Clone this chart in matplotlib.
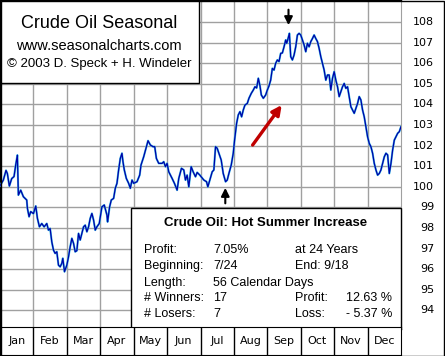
"""Crude oil seasonal chart (seasonalcharts.com style)."""
import matplotlib
matplotlib.use('Agg')
import matplotlib.pyplot as plt
from matplotlib.patches import Rectangle

# position in months since Jan 1 (0..12) and seasonal index value
month_pos = [
    0.00, 0.10, 0.18, 0.22, 0.28, 0.35, 0.42, 0.47, 0.52, 0.55, 0.62, 0.70, 0.80, 0.82, 0.87, 0.92,
    1.00, 1.07, 1.12, 1.18, 1.25, 1.32, 1.40, 1.45, 1.50, 1.55, 1.60, 1.65, 1.70, 1.75, 1.80, 1.85, 1.88, 1.93,
    2.00, 2.05, 2.10, 2.15, 2.20, 2.25, 2.30, 2.35, 2.40, 2.45, 2.50, 2.55, 2.60, 2.65, 2.70, 2.75, 2.80, 2.85, 2.90, 2.97,
    3.05, 3.12, 3.20, 3.22, 3.28, 3.33, 3.40, 3.45, 3.50, 3.55, 3.60, 3.65, 3.68, 3.72, 3.78, 3.85, 3.90, 3.95,
    4.00, 4.10, 4.18, 4.22, 4.30, 4.37, 4.43, 4.50, 4.58, 4.63, 4.68, 4.75, 4.85, 4.90, 4.95,
    5.00, 5.05, 5.15, 5.22, 5.30, 5.35, 5.43, 5.50, 5.55, 5.60, 5.65, 5.72, 5.78, 5.85, 5.90, 5.98,
    6.10, 6.18, 6.22, 6.28, 6.35, 6.40, 6.45, 6.50, 6.55, 6.62, 6.68, 6.75, 6.80, 6.85, 6.92, 6.98,
    7.02, 7.08, 7.13, 7.18, 7.23, 7.28, 7.33, 7.40, 7.45, 7.52, 7.58, 7.63, 7.68, 7.73, 7.78, 7.82, 7.88, 7.95,
    8.00, 8.05, 8.10, 8.15, 8.20, 8.25, 8.30, 8.35, 8.40, 8.45, 8.50, 8.55, 8.58, 8.62, 8.66, 8.70, 8.75, 8.80, 8.85, 8.90, 8.95,
    9.00, 9.05, 9.10, 9.15, 9.20, 9.25, 9.30, 9.35, 9.40, 9.45, 9.50, 9.55, 9.60, 9.65, 9.70, 9.75, 9.80, 9.85, 9.90, 9.95,
    10.00, 10.05, 10.10, 10.15, 10.20, 10.25, 10.30, 10.35, 10.40, 10.45, 10.50, 10.55, 10.60, 10.65, 10.70, 10.75, 10.80, 10.85, 10.90, 10.95,
    11.00, 11.05, 11.10, 11.15, 11.20, 11.25, 11.30, 11.35, 11.40, 11.45, 11.50, 11.55, 11.60, 11.65, 11.70, 11.75, 11.80, 11.85, 11.90, 11.95,
    12.00,
]
seasonal = [
    100.05, 100.33, 100.80, 100.65, 100.04, 100.40, 100.50, 101.06, 101.54, 99.60, 99.84, 99.52, 99.36, 98.96, 98.55, 98.80,
    98.70, 99.07, 98.47, 98.06, 98.22, 98.06, 98.22, 97.90, 97.98, 97.33, 96.93, 96.77, 96.85, 96.20, 96.12, 96.29, 96.53, 95.88,
    96.20, 96.60, 97.09, 97.50, 97.26, 96.85, 96.90, 97.74, 97.42, 97.74, 98.06, 98.14, 97.82, 98.06, 98.47, 98.71, 98.39, 97.90, 98.06, 98.22,
    99.03, 99.12, 98.63, 98.30, 99.03, 99.36, 99.44, 99.93, 100.17, 100.82, 101.38, 101.63, 101.22, 100.82, 100.41, 100.17, 99.93, 100.33,
    100.17, 100.25, 100.57, 101.06, 101.46, 101.87, 102.24, 102.03, 101.95, 101.95, 101.38, 101.14, 101.14, 101.22, 100.98,
    101.14, 100.73, 100.41, 100.17, 99.84, 100.41, 100.90, 100.82, 100.33, 100.57, 100.00, 100.98, 100.73, 100.49, 100.70, 100.57,
    100.33, 100.25, 100.00, 100.33, 100.73, 100.82, 101.95, 101.87, 101.63, 101.30, 100.65, 100.25, 100.33, 100.65, 101.06, 101.63,
    102.27, 103.08, 103.49, 103.65, 103.40, 103.73, 103.97, 104.05, 104.30, 104.54, 104.70, 104.86, 104.80, 105.27, 104.90, 104.46, 104.30, 104.46,
    104.70, 104.90, 105.18, 105.75, 105.67, 106.00, 106.16, 106.08, 106.48, 106.50, 106.80, 107.13, 106.97, 107.20, 107.45, 106.32, 106.16, 106.40, 106.80, 107.37, 107.45,
    107.37, 107.13, 106.89, 106.56, 106.97, 106.80, 107.05, 107.20, 107.37, 107.20, 107.05, 106.72, 106.32, 106.00, 105.67, 105.18, 105.43, 105.43, 104.70, 105.27,
    105.59, 105.18, 104.86, 104.38, 104.62, 104.86, 105.02, 104.78, 104.86, 104.38, 103.89, 103.73, 103.57, 103.81, 104.05, 104.38, 104.22, 103.73, 103.40, 102.92,
    102.43, 102.11, 101.95, 101.63, 101.14, 100.82, 100.57, 100.65, 100.82, 101.14, 101.46, 101.63, 101.55, 100.65, 101.14, 101.79, 102.27, 102.43, 102.60, 102.68,
    102.92,
]
months = ['Jan', 'Feb', 'Mar', 'Apr', 'May', 'Jun', 'Jul', 'Aug', 'Sep', 'Oct', 'Nov', 'Dec']
y_ticks = list(range(94, 109))

# season window 7/24 -> 9/18, in month positions
season_start = 6 + 23 / 31
season_end = 8 + 19 / 30

info_rows = [
    ('Profit:', '7.05%', 'at 24 Years', ''),
    ('Beginning:', '7/24', 'End: 9/18', ''),
    ('Length:', '56 Calendar Days', '', ''),
    ('# Winners:', '17', 'Profit:', '12.63 %'),
    ('# Losers:', '7', 'Loss:', '- 5.37 %'),
]

W, H = 445, 356
GRID = '#a0a0a0'
TEXT_FONT = ['Liberation Sans', 'DejaVu Sans']


def draw_chart():
    fig = plt.figure(figsize=(W / 100, H / 100), dpi=100)
    ax = fig.add_axes([0, 27 / H, 401 / W, 329 / H])
    ax.set_xlim(0, 12)
    ax.set_ylim(93.10, 109.07)

    for m in range(1, 12):
        ax.axvline(m, color=GRID, lw=1.0, zorder=1)
    for v in y_ticks:
        ax.axhline(v, color=GRID, lw=1.0, zorder=1)

    # seasonal line: light cyan halo under a dark blue core
    ax.plot(month_pos, seasonal, color='#40c0e8', lw=1.5, zorder=3)
    ax.plot(month_pos, seasonal, color='#0000a8', lw=0.9, zorder=4)

    ax.set_xticks([])
    ax.set_yticks([])
    for side in ['left', 'top', 'bottom']:
        ax.spines[side].set_color('black')
        ax.spines[side].set_linewidth(1.0)
    ax.spines['right'].set_color(GRID)

    # right side value labels
    for v in y_ticks:
        ax.text(434 / 401, v, str(v), transform=ax.get_yaxis_transform(),
                ha='right', va='center', fontsize=8, family='DejaVu Sans', clip_on=False)

    # season markers
    ax.annotate('', xy=(season_start, 99.95), xytext=(season_start, 99.2),
                arrowprops=dict(arrowstyle='-|>', color='black', lw=1.5, mutation_scale=12,
                                shrinkA=0, shrinkB=0), zorder=6)
    ax.annotate('', xy=(season_end, 107.85), xytext=(season_end, 108.6),
                arrowprops=dict(arrowstyle='-|>', color='black', lw=1.5, mutation_scale=12,
                                shrinkA=0, shrinkB=0), zorder=6)
    ax.annotate('', xy=(8.43, 103.97), xytext=(7.56, 102.03),
                arrowprops=dict(arrowstyle='-|>', color='#c00000', lw=2.4, mutation_scale=14,
                                shrinkA=0, shrinkB=0), zorder=6)

    # title box
    ax.add_patch(Rectangle((0, 1 - 83 / 329), 199 / 401, 83 / 329, transform=ax.transAxes,
                           facecolor='white', edgecolor='black', lw=1.0, zorder=7, clip_on=False))
    cx = 99 / 401
    ax.text(cx, 1 - 23 / 329, 'Crude Oil Seasonal', transform=ax.transAxes, ha='center', va='center',
            fontsize=13, family=TEXT_FONT, zorder=8)
    ax.text(cx, 1 - 46 / 329, 'www.seasonalcharts.com', transform=ax.transAxes, ha='center', va='center',
            fontsize=10.5, family=TEXT_FONT, zorder=8)
    ax.text(cx, 1 - 64 / 329, '\u00a9 2003 D. Speck + H. Windeler', transform=ax.transAxes, ha='center',
            va='center', fontsize=9.5, family=TEXT_FONT, zorder=8)

    # info box
    ax.add_patch(Rectangle((131 / 401, 0), 270 / 401, 121 / 329, transform=ax.transAxes,
                           facecolor='white', edgecolor='black', lw=1.0, zorder=7, clip_on=False))
    ax.text(266 / 401, (329 - 223) / 329, 'Crude Oil: Hot Summer Increase', transform=ax.transAxes,
            ha='center', va='center', fontsize=9.5, fontweight='bold', family=TEXT_FONT, zorder=8)
    row_y = [250, 266, 283, 298, 314]
    for (c1, c2, c3, c4), py in zip(info_rows, row_y):
        yy = (329 - py) / 329
        for txt, px, ha in [(c1, 144, 'left'), (c2, 213, 'left'), (c3, 295, 'left'), (c4, 392, 'right')]:
            if txt:
                ax.text(px / 401, yy, txt, transform=ax.transAxes, ha=ha, va='center',
                        fontsize=9, family=TEXT_FONT, zorder=8)

    # month label strip
    axm = fig.add_axes([0, 1 / H, 401 / W, 28 / H])
    axm.set_xlim(0, 12)
    axm.set_ylim(0, 1)
    axm.set_xticks([])
    axm.set_yticks([])
    for m in range(1, 12):
        axm.axvline(m, color='black', lw=1.0)
    for i, name in enumerate(months):
        axm.text(i + 0.5, 0.5, name, ha='center', va='center', fontsize=8, family='DejaVu Sans')
    for s in axm.spines.values():
        s.set_color('black')

    # outer frame
    fig.add_artist(Rectangle((0.5 / W, 0.5 / H), (W - 1.5) / W, (H - 1.5) / H, transform=fig.transFigure,
                             fill=False, edgecolor='black', lw=1.0))

    fig.savefig('out.png', dpi=100)


def main():
    draw_chart()


if __name__ == '__main__':
    main()
